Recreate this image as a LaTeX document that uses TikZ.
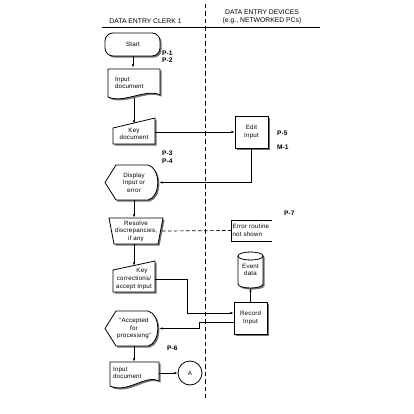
\documentclass[tikz,border=0pt]{standalone}
\usepackage{fontspec}
\setmainfont{Liberation Sans}
\newfontfamily\boxfont[LetterSpace=3]{Liberation Sans}
\usetikzlibrary{arrows.meta}
\tikzset{
 every node/.style={inner sep=0pt},
 lbl/.style={font=\boxfont\fontsize{6.2}{7.6}\selectfont, align=center},
 plbl/.style={font=\fontsize{6.6}{7.5}\selectfont\bfseries, anchor=west, align=left},
 hdr/.style={font=\fontsize{6.8}{7.8}\selectfont, align=center},
 arr/.style={-{Latex[length=3.5pt,width=2.4pt]}, line width=0.7pt},
 conn/.style={line width=0.7pt},
 shp/.style={fill=white, draw=black, line width=0.8pt},
 shd/.style={fill=black!55},
}
\newcommand\dropshp[1]{\fill[shd,shift={(1.6,1.6)}] #1; \path[shp] #1;}
\begin{document}
\begin{tikzpicture}[x=1pt,y=-1pt]
\useasboundingbox (0,0) rectangle (414,414);
\fill[white] (0,0) rectangle (414,414);
% header
\node[hdr] (hclerk) at (145.5,21.5) {DATA ENTRY CLERK 1};
\node[hdr] (hdev) at (262,17) {DATA ENTRY DEVICES\\(e.g., NETWORKED PCs)};
\draw[line width=0.8pt] (102,27) -- (320,27);
\draw[line width=0.8pt, dash pattern=on 4.5pt off 3pt] (205,4) -- (205,398);
% shapes
\dropshp{[rounded corners=8pt] (105,33) rectangle (160,56)}
\dropshp{(108,69) -- (160,69) -- (160,95) .. controls (146,88) and (124,104) .. (108,97) -- cycle}
\dropshp{(113,128) -- (155,118) -- (155,144) -- (113,144) -- cycle}
\dropshp{(235,116) rectangle (268,148)}
\dropshp{(105,182.5) -- (116,165) -- (148,165) .. controls (161,168) and (161,197) .. (148,200) -- (116,200) -- cycle}
\dropshp{(109,218) -- (163,218) -- (158,244) -- (114,244) -- cycle}
\draw[line width=0.8pt] (272,220) -- (231,220) -- (231,241) -- (272,241);
\dropshp{(113,270) -- (155,261) -- (155,292) -- (113,292) -- cycle}
\dropshp{(238,256) -- (238,284) .. controls (238,289.3) and (263,289.3) .. (263,284) -- (263,256) .. controls (263,250.7) and (238,250.7) .. (238,256) -- cycle}
\draw[line width=0.8pt] (238,256) .. controls (238,261.3) and (263,261.3) .. (263,256);
\dropshp{(234,302) rectangle (267,334)}
\dropshp{(105,328.5) -- (116,311) -- (148,311) .. controls (161,314) and (161,343) .. (148,346) -- (116,346) -- cycle}
\dropshp{(110,362) -- (159,362) -- (159,381) .. controls (145,374) and (128,394) .. (110,386) -- cycle}
\draw[line width=0.8pt, fill=white] (190,373) circle (12);
% text nodes
\node[lbl, minimum width=55pt, minimum height=23pt] (start) at (133,44.5) {Start};
\node[lbl, align=left, text width=38pt, minimum width=52pt, minimum height=30pt] (doc1) at (134,83) {Input\\document};
\node[lbl, minimum width=42pt, minimum height=20pt] (kd) at (134,134) {Key\\document};
\node[lbl, minimum width=33pt, minimum height=32pt] (ed) at (251.5,132) {Edit\\Input};
\node[lbl, minimum width=50pt, minimum height=35pt] (disp) at (134,182.5) {Display\\Input or\\error};
\node[lbl, minimum width=52pt, minimum height=26pt] (res) at (136,231) {Resolve\\discrepancies,\\if any};
\node[lbl, align=left, text width=38pt, minimum width=41pt, minimum height=21pt] (err) at (251.5,230.5) {Error routine\\not shown};
\node[lbl, minimum width=42pt, minimum height=26pt] (kc) at (134,279) {\hspace*{16pt}Key\\corrections/\\accept Input};
\node[lbl, minimum width=25pt, minimum height=36pt] (ev) at (250.5,270) {Event\\data};
\node[lbl, minimum width=33pt, minimum height=32pt] (rec) at (250.5,318) {Record\\Input};
\node[lbl, minimum width=50pt, minimum height=35pt] (acc) at (134,328.5) {“Accepted\\for\\processing”};
\node[lbl, align=left, text width=43pt, minimum width=49pt, minimum height=22pt] (doc2) at (134.5,373) {Input\\document};
\node[lbl, circle, minimum size=24pt] (A) at (190,373) {A};
% P labels
\node[plbl] (p12) at (162,56.5) {P-1\\[-0.5pt]P-2};
\node[plbl, font=\fontsize{6.6}{8}\selectfont\bfseries] (p34) at (162,157) {P-3\\P-4};
\node[plbl] (p5) at (277,133) {P-5};
\node[plbl] (m1) at (277,147) {M-1};
\node[plbl] (p7) at (284,213) {P-7};
\node[plbl] (p6) at (167,348) {P-6};
% coordinates
\coordinate (k1) at (187,313);
\coordinate (r1) at (199,322);
% connectors
\draw[arr] (start.south) -- (start.south |- doc1.north);
\draw[arr] (doc1.south) -- (kd.north);
\draw[arr] (ed.west -| kd.east) -- (ed.west);
\draw[arr] (ed.south) |- (disp.east);
\draw[arr] (disp.south) -- (disp.south |- res.north);
\draw[conn, dash pattern=on 3.5pt off 2.5pt] (res.east) -- (err.west);
\draw[arr] (res.south -| kc.north) -- (kc.north);
\draw[arr] (kc.east) -| (k1) -- (k1 -| rec.west);
\draw[arr] (rec.north) -- (ev.south);
\draw[arr] (r1 -| rec.west) -- (r1) |- (acc.east);
\draw[arr] (acc.south) -- (acc.south |- doc2.north);
\draw[arr] (doc2) -- (A);
\end{tikzpicture}
\end{document}
